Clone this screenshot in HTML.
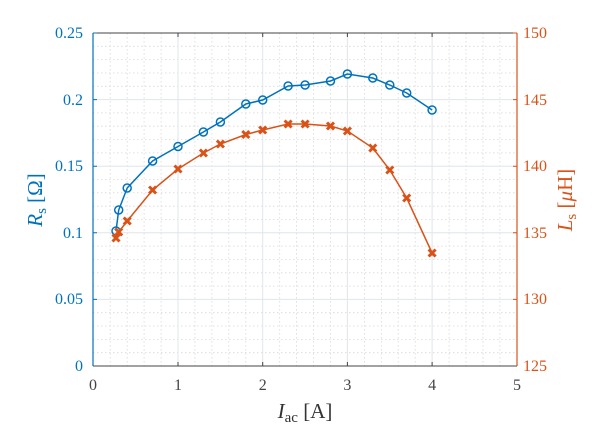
<!DOCTYPE html>
<html><head><style>body{margin:0;background:#fff}svg{display:block}</style></head>
<body>
<svg width="600" height="441" xmlns="http://www.w3.org/2000/svg" font-family="Liberation Serif, serif">
<g id="grid">
<g stroke="#d8d8d8" stroke-width="0.8" stroke-dasharray="1.5,2.5">
<path d="M110.2 33V366M127.2 33V366M144.1 33V366M161.1 33V366M194.9 33V366M211.9 33V366M228.8 33V366M245.8 33V366M279.7 33V366M296.6 33V366M313.5 33V366M330.5 33V366M364.4 33V366M381.3 33V366M398.2 33V366M415.2 33V366M449.1 33V366M466 33V366M483 33V366M499.9 33V366"/>
<path d="M93 352.7H517M93 339.4H517M93 326H517M93 312.7H517M93 286.1H517M93 272.8H517M93 259.4H517M93 246.1H517M93 219.5H517M93 206.2H517M93 192.8H517M93 179.5H517M93 152.9H517M93 139.6H517M93 126.2H517M93 112.9H517M93 86.3H517M93 73H517M93 59.6H517M93 46.3H517"/>
</g>
<g stroke="#dfe6ec" stroke-width="1">
<path d="M178 33V366M262.7 33V366M347.4 33V366M432.1 33V366M93 299.4H517M93 232.8H517M93 166.2H517M93 99.6H517"/>
</g>
</g>
<path d="M93 366H517M93 33H517" stroke="#444" stroke-width="1"/>
<path d="M178 366v-4M262.7 366v-4M347.4 366v-4M432.1 366v-4M178 33v4M262.7 33v4M347.4 33v4M432.1 33v4" stroke="#444"/>
<path d="M93 33V366" stroke="#0072BD" stroke-width="1.2"/>
<path d="M93 299.4h4M93 232.8h4M93 166.2h4M93 99.6h4M93 33h4" stroke="#0072BD"/>
<path d="M517 33V366" stroke="#D95319" stroke-width="1.2"/>
<path d="M517 299.4h-4M517 232.8h-4M517 166.2h-4M517 99.6h-4M517 33h-4" stroke="#D95319"/>
<g fill="#0072BD" font-size="16" text-anchor="end">
<text x="83" y="371">0</text><text x="83" y="304">0.05</text><text x="83" y="238">0.1</text><text x="83" y="171">0.15</text><text x="83" y="105">0.2</text><text x="83" y="38">0.25</text>
</g>
<g fill="#D95319" font-size="16">
<text x="523" y="371">125</text><text x="523" y="304">130</text><text x="523" y="238">135</text><text x="523" y="171">140</text><text x="523" y="105">145</text><text x="523" y="38">150</text>
</g>
<g fill="#444" font-size="16" text-anchor="middle">
<text x="93" y="390">0</text><text x="178" y="390">1</text><text x="262.7" y="390">2</text><text x="347.4" y="390">3</text><text x="432.1" y="390">4</text><text x="517" y="390">5</text>
</g>
<text x="305" y="418" font-size="21" fill="#333" text-anchor="middle"><tspan font-style="italic">I</tspan><tspan font-size="15" dy="4">ac</tspan><tspan dy="-4"> [A]</tspan></text>
<text transform="translate(42,200) rotate(-90)" font-size="21" fill="#0072BD" text-anchor="middle"><tspan font-style="italic">R</tspan><tspan font-size="15" dy="4">s</tspan><tspan dy="-4"> [Ω]</tspan></text>
<text transform="translate(572,200) rotate(-90)" font-size="21" fill="#D95319" text-anchor="middle"><tspan font-style="italic">L</tspan><tspan font-size="15" dy="4">s</tspan><tspan dy="-4"> [</tspan><tspan font-style="italic">μ</tspan><tspan>H]</tspan></text>
<g fill="none" stroke="#0072BD" stroke-width="1.5">
<polyline points="116,231 118.7,210 127.2,188 152.6,161 178,146.5 203.4,132 220.4,122 245.8,104 262.7,100 288.1,86 305.1,85 330.5,81 347.4,74 372.8,78 389.8,85 406.7,93 432.1,110"/>
<g>
<circle cx="116" cy="231" r="4"/><circle cx="118.7" cy="210" r="4"/><circle cx="127.2" cy="188" r="4"/><circle cx="152.6" cy="161" r="4"/><circle cx="178" cy="146.5" r="4"/><circle cx="203.4" cy="132" r="4"/><circle cx="220.4" cy="122" r="4"/><circle cx="245.8" cy="104" r="4"/><circle cx="262.7" cy="100" r="4"/><circle cx="288.1" cy="86" r="4"/><circle cx="305.1" cy="85" r="4"/><circle cx="330.5" cy="81" r="4"/><circle cx="347.4" cy="74" r="4"/><circle cx="372.8" cy="78" r="4"/><circle cx="389.8" cy="85" r="4"/><circle cx="406.7" cy="93" r="4"/><circle cx="432.1" cy="110" r="4"/>
</g>
</g>
<g fill="none" stroke="#D95319">
<polyline stroke-width="1.5" points="116,238 118.7,232 127.2,221 152.6,190 178,169 203.4,153 220.4,144 245.8,134.5 262.7,130 288.1,124 305.1,124 330.5,126 347.4,131 372.8,148 389.8,170 406.7,198 432.1,253"/>
<g stroke-width="3">
<path d="M112.5 234.5l7 7m0-7l-7 7M115.2 228.5l7 7m0-7l-7 7M123.7 217.5l7 7m0-7l-7 7M149.1 186.5l7 7m0-7l-7 7M174.5 165.5l7 7m0-7l-7 7M199.9 149.5l7 7m0-7l-7 7M216.9 140.5l7 7m0-7l-7 7M242.3 131l7 7m0-7l-7 7M259.2 126.5l7 7m0-7l-7 7M284.6 120.5l7 7m0-7l-7 7M301.6 120.5l7 7m0-7l-7 7M327 122.5l7 7m0-7l-7 7M343.9 127.5l7 7m0-7l-7 7M369.3 144.5l7 7m0-7l-7 7M386.3 166.5l7 7m0-7l-7 7M403.2 194.5l7 7m0-7l-7 7M428.6 249.5l7 7m0-7l-7 7"/>
</g>
</g>
</svg>
</body></html>
